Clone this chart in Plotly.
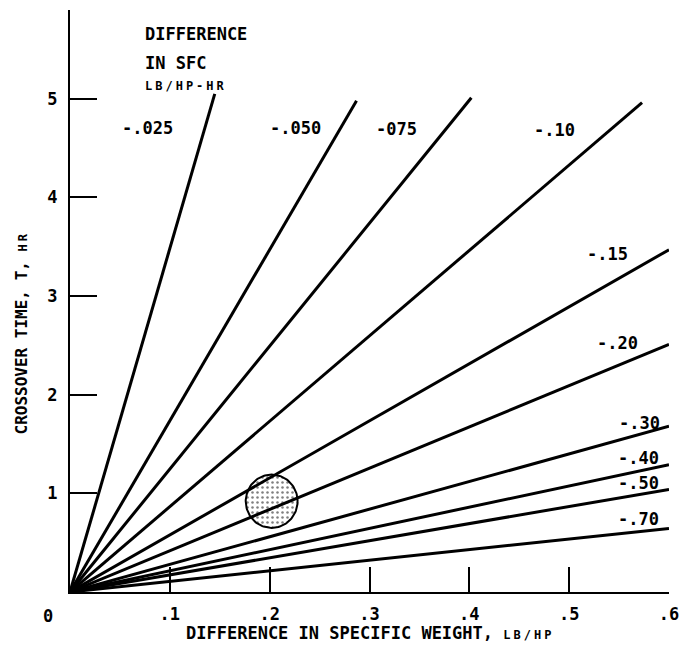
import numpy as np
import plotly.graph_objects as go

# Difference in SFC (lb/hp-hr) for each line
sfc_labels = ["-.025", "-.050", "-075", "-.10", "-.15", "-.20", "-.30", "-.40", "-.50", "-.70"]
# Line end points: difference in specific weight (lb/hp) and crossover time (hr)
end_weight = [0.145, 0.287, 0.402, 0.573, 0.600, 0.600, 0.600, 0.600, 0.600, 0.600]
end_time = [5.05, 4.98, 5.01, 4.96, 3.47, 2.51, 1.68, 1.29, 1.04, 0.645]

x_tickvals = [0.1, 0.2, 0.3, 0.4, 0.5, 0.6]
x_ticktext = [".1", ".2", ".3", ".4", ".5", ".6"]
y_tickvals = [1, 2, 3, 4, 5]
y_ticktext = ["1", "2", "3", "4", "5"]

# Shaded region (circle) centre and radii in data units
circle_center = (0.202, 0.92)
circle_radius = (0.026, 0.27)

FONT = "DejaVu Sans Mono, monospace"
SMALL = "<span style='font-size:12px;letter-spacing:3px'>{}</span>"

fig = go.Figure()

# Stippled circle
th = np.linspace(0, 2 * np.pi, 121)
fig.add_trace(go.Scatter(
    x=circle_center[0] + circle_radius[0] * np.cos(th),
    y=circle_center[1] + circle_radius[1] * np.sin(th),
    mode="lines", fill="toself",
    line=dict(color="black", width=2),
    fillcolor="white",
    fillpattern=dict(shape=".", fgcolor="black", bgcolor="white", size=5, solidity=0.2),
    hoverinfo="skip", showlegend=False,
))

for lab, xe, ye in zip(sfc_labels, end_weight, end_time):
    fig.add_trace(go.Scatter(
        x=[0, xe], y=[0, ye], mode="lines", name=lab,
        line=dict(color="black", width=3), showlegend=False,
        cliponaxis=False,
    ))

# label positions (data coords)
label_pos = [(0.0778, 4.70), (0.2254, 4.70), (0.3268, 4.69), (0.4854, 4.68),
             (0.5387, 3.43), (0.5487, 2.52), (0.5707, 1.71), (0.5697, 1.36),
             (0.5697, 1.11), (0.5697, 0.74)]
annotations = []
for lab, (lx, ly) in zip(sfc_labels, label_pos):
    annotations.append(dict(x=lx, y=ly, xref="x", yref="y", text="<b>%s</b>" % lab, showarrow=False,
                            font=dict(size=17, color="black", family=FONT),
                            xanchor="center", yanchor="middle"))

annotations += [
    dict(x=0.0728, y=5.66, xref="x", yref="y", text="<b>DIFFERENCE</b>", showarrow=False,
         font=dict(size=17, color="black", family=FONT), xanchor="left", yanchor="middle"),
    dict(x=0.0728, y=5.36, xref="x", yref="y", text="<b>IN SFC</b>", showarrow=False,
         font=dict(size=17, color="black", family=FONT), xanchor="left", yanchor="middle"),
    dict(x=0.0728, y=5.13, xref="x", yref="y", text="<b>" + SMALL.format("LB/HP-HR") + "</b>",
         showarrow=False,
         font=dict(size=12, color="black", family=FONT), xanchor="left", yanchor="middle"),
    dict(x=-0.036, y=-0.041, xref="paper", yref="paper", text="<b>0</b>", showarrow=False,
         font=dict(size=17, color="black", family=FONT), xanchor="center", yanchor="middle"),
    dict(x=0.5, y=-0.0704, xref="paper", yref="paper",
         text="<b>DIFFERENCE IN SPECIFIC WEIGHT, " + SMALL.format("LB/HP") + "</b>",
         showarrow=False, font=dict(size=17, color="black", family=FONT),
         xanchor="center", yanchor="middle"),
    dict(x=-0.081, y=0.445, xref="paper", yref="paper",
         text="<b>CROSSOVER TIME, T, " + SMALL.format("HR") + "</b>",
         showarrow=False, textangle=-90, font=dict(size=16, color="black", family=FONT),
         xanchor="center", yanchor="middle"),
]

fig.update_layout(
    width=681, height=663,
    margin=dict(l=70, r=12, t=10, b=71),
    paper_bgcolor="white", plot_bgcolor="white",
    showlegend=False,
    annotations=annotations,
    font=dict(family=FONT, size=17, color="black"),
)
fig.update_xaxes(
    range=[0, 0.6], showgrid=False, zeroline=False, showline=True, automargin=False,
    linecolor="black", linewidth=2, ticks="inside", ticklen=25, tickwidth=2,
    tickcolor="black", tickvals=x_tickvals, ticktext=["<b>%s</b>" % t for t in x_ticktext],
    tickfont=dict(size=17, family=FONT), ticklabelstandoff=6,
    ticklabeloverflow="allow",
)
fig.update_yaxes(
    range=[0, 5.9], showgrid=False, zeroline=False, showline=True, automargin=False,
    linecolor="black", linewidth=2, ticks="inside", ticklen=27, tickwidth=2,
    tickcolor="black", tickvals=y_tickvals, ticktext=["<b>%s</b>" % t for t in y_ticktext],
    tickfont=dict(size=17, family=FONT), ticklabelstandoff=7,
)

fig.write_html(
    "out.html", config={"displayModeBar": False},
    post_script=("document.body.style.margin='0';"
                 "document.body.style.overflow='hidden';"
                 "document.documentElement.style.overflow='hidden';"),
)
